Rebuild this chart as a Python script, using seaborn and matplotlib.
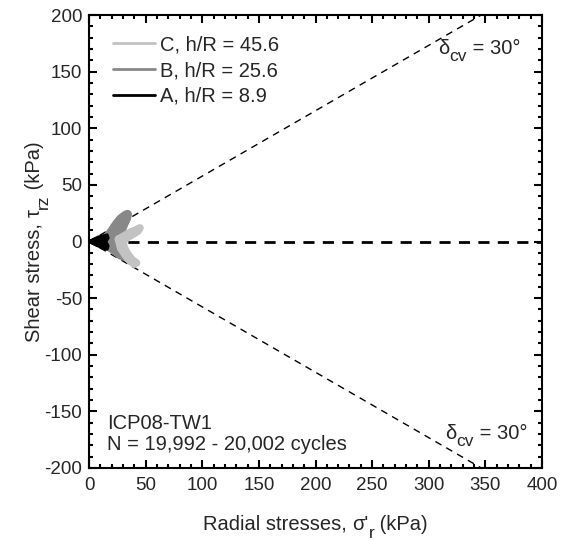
import numpy as np
import pandas as pd
import matplotlib
matplotlib.use("Agg")
import matplotlib.pyplot as plt
from matplotlib.ticker import MultipleLocator
from matplotlib.lines import Line2D
from matplotlib.transforms import IdentityTransform
import seaborn as sns

# ---- data (kPa) ----
labels = ["C, h/R = 45.6", "B, h/R = 25.6", "A, h/R = 8.9"]
colors = ["#c2c2c2", "#888888", "#000000"]

A_x = [0, 4, 8, 12, 16, 17, 15, 17, 16, 12, 8, 4, 0, 6, 12, 14, 12, 6, 0]
A_y = [0, 2, 4, 5, 6, 3, 0, -4, -7, -6, -4, -2, 0, 2, 3, 0, -4, -3, 0]

B_x = [14, 17, 20, 24, 28, 32, 34, 33, 31, 29, 27, 25, 25, 26, 28, 31, 34, 31, 28, 24, 20, 17, 15, 14, 18, 22, 21, 17]
B_y = [0, 5, 9, 15, 20, 23, 24, 20, 16, 11, 7, 3, -1, -5, -8, -11, -12, -13, -12, -9, -6, -4, -2, 0, 3, 1, -4, -2]

C_x = [26, 31, 36, 41, 45, 43, 38, 33, 30, 31, 34, 38, 42, 40, 36, 32, 28, 26]
C_y = [2, 5, 8, 10, 12, 9, 6, 3, 0, -5, -11, -16, -19, -20, -17, -12, -6, 2]

delta_cv = 30  # degrees
x_ticks = [0, 50, 100, 150, 200, 250, 300, 350, 400]
y_ticks = [-200, -150, -100, -50, 0, 50, 100, 150, 200]

sns.set_theme(style="ticks")
plt.rcParams["font.family"] = ["Liberation Sans", "DejaVu Sans"]
plt.rcParams["axes.unicode_minus"] = False

W, H = 568, 540
fig = plt.figure(figsize=(W / 100, H / 100), dpi=100)
ax = fig.add_axes([89 / W, 1 - 468 / H, 453 / W, 453 / H])

# reference lines
xl = 200 / np.tan(np.radians(delta_cv))
ax.plot([0, xl], [0, 200], ls=(0, (5, 4)), color="black", lw=1.0, zorder=1)
ax.plot([0, xl], [0, -200], ls=(0, (5, 4)), color="black", lw=1.0, zorder=1)
ax.plot([0, 400], [0, 0], ls=(0, (4, 3)), color="black", lw=2.0, zorder=1)

dfA = pd.DataFrame({"x": A_x, "y": A_y})
dfB = pd.DataFrame({"x": B_x, "y": B_y})
dfC = pd.DataFrame({"x": C_x, "y": C_y})

sns.lineplot(data=dfB, x="x", y="y", sort=False, estimator=None, color=colors[1], lw=6.5, ax=ax, zorder=3)
sns.lineplot(data=dfC, x="x", y="y", sort=False, estimator=None, color=colors[0], lw=5.5, ax=ax, zorder=4)
sns.lineplot(data=dfA, x="x", y="y", sort=False, estimator=None, color=colors[2], lw=2, ax=ax, zorder=5)
ax.fill(A_x, A_y, color=colors[2], zorder=5, lw=0)

handles = [Line2D([], [], color=c, lw=2) for c in colors]
ax.legend(handles, labels, loc="upper left", frameon=False, fontsize=14.5,
          handlelength=2.1, handletextpad=0.25, labelspacing=0.33,
          borderpad=0, borderaxespad=0, bbox_to_anchor=(0.053, 0.955))

ax.set_xlim(0, 400)
ax.set_ylim(-200, 200)
ax.set_xticks(x_ticks)
ax.set_yticks(y_ticks)
ax.xaxis.set_minor_locator(MultipleLocator(10))
ax.yaxis.set_minor_locator(MultipleLocator(10))
ax.tick_params(which="both", direction="in", top=True, right=True, labelsize=13.5, width=1.5, color="black")
ax.tick_params(which="major", length=6)
ax.tick_params(axis="x", which="major", pad=6.5)
ax.tick_params(axis="y", which="major", pad=5)
ax.tick_params(which="minor", length=3)
for s in ax.spines.values():
    s.set_linewidth(1.5)
    s.set_color("black")
ax.set_xlabel("")
ax.set_ylabel("")

renderer = fig.canvas.get_renderer()


def seq_text(x0, y0, pieces, rotation=0, center=False):
    """Place text pieces one after another in pixel coords (y from top).
    pieces: list of (string, fontsize, baseline shift down in px)."""
    arts = []
    x, y = x0, H - y0
    for s, fs, dy in pieces:
        if rotation == 0:
            t = fig.text(x, y - dy, s, fontsize=fs, ha="left", va="baseline",
                         transform=IdentityTransform())
            ext = t.get_window_extent(renderer)
            x = ext.x1
        else:
            t = fig.text(x + dy, y, s, fontsize=fs, ha="left", va="baseline",
                         rotation=90, rotation_mode="anchor",
                         transform=IdentityTransform())
            ext = t.get_window_extent(renderer)
            y = ext.y1
        arts.append(t)
    if center:
        if rotation == 0:
            total = x - x0
            for t in arts:
                px, py = t.get_position()
                t.set_position((px - total / 2, py))
        else:
            total = y - (H - y0)
            for t in arts:
                px, py = t.get_position()
                t.set_position((px, py - total / 2))
    return arts


FS = 14.5
SUB = 12.5
# axis labels
seq_text(315.5, 530, [("Radial stresses, ", FS, 0), ("\u03c3'", FS, 0), ("r", SUB, 8), (" (kPa)", FS, 0)], center=True)
seq_text(40, 241.5, [("Shear stress, ", FS, 0), ("\u03c4", FS, 0), ("rz", SUB, 8), (" (kPa)", FS, 0)], rotation=90, center=True)

# annotations
seq_text(438, 54, [("\u03b4", FS, 0), ("cv", SUB, 7), (" = 30\u00b0", FS, 0)])
seq_text(445, 439, [("\u03b4", FS, 0), ("cv", SUB, 7), (" = 30\u00b0", FS, 0)])
ax.text(16, -166, "ICP08-TW1", fontsize=FS, ha="left", va="baseline")
ax.text(16, -184, "N = 19,992 - 20,002 cycles", fontsize=FS, ha="left", va="baseline")

fig.savefig("out.png", dpi=100)
